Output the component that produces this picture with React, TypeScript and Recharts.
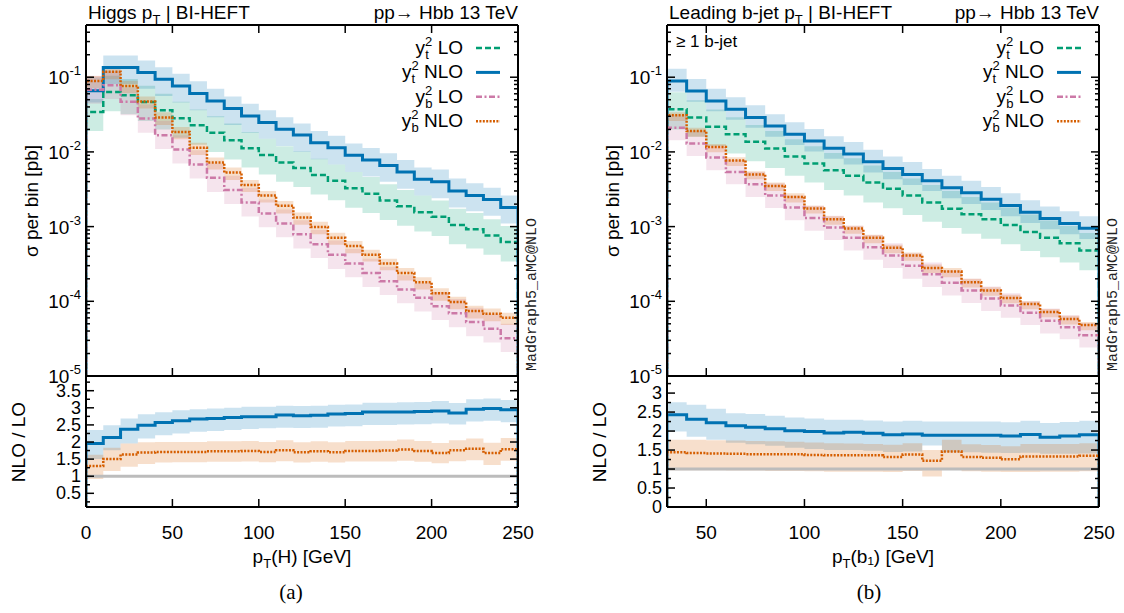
import React from "react";
import { ComposedChart, Line, Area, XAxis, YAxis, ReferenceLine } from "recharts";

// ---------- (a) Higgs pT, 10 GeV bins 0..250
const higgsEdges = [0, 10, 20, 30, 40, 50, 60, 70, 80, 90, 100, 110, 120, 130, 140, 150, 160, 170, 180, 190, 200, 210, 220, 230, 240, 250];

const higgsYtLO = [0.0343, 0.0636, 0.0574, 0.0467, 0.0362, 0.0282, 0.0227, 0.0181, 0.0143, 0.0112, 0.0091, 0.0072, 0.0061, 0.0049, 0.0041, 0.00325, 0.00276, 0.00224, 0.00188, 0.00156, 0.00136, 0.00105, 0.00092, 0.00076, 0.00062];
const higgsYtLOLo = [0.019, 0.035, 0.032, 0.026, 0.02, 0.0155, 0.0125, 0.01, 0.0079, 0.0062, 0.005, 0.004, 0.0034, 0.0027, 0.00226, 0.00179, 0.00152, 0.00123, 0.00103, 0.00086, 0.00075, 0.00058, 0.00051, 0.00042, 0.00034];
const higgsYtLOHi = [0.051, 0.105, 0.095, 0.077, 0.06, 0.047, 0.037, 0.03, 0.024, 0.0185, 0.015, 0.0119, 0.0101, 0.0081, 0.0068, 0.0054, 0.0046, 0.0037, 0.0031, 0.0026, 0.00224, 0.00173, 0.00152, 0.00125, 0.00102];

const higgsYtNLO = [0.066, 0.135, 0.135, 0.116, 0.094, 0.0765, 0.0604, 0.0481, 0.038, 0.0303, 0.0247, 0.0201, 0.0168, 0.0133, 0.0114, 0.009, 0.0078, 0.0066, 0.0054, 0.0043, 0.004, 0.003, 0.0026, 0.0023, 0.0018];
const higgsYtNLOLo = [0.046, 0.081, 0.081, 0.07, 0.056, 0.046, 0.036, 0.029, 0.023, 0.018, 0.015, 0.012, 0.01, 0.008, 0.0068, 0.0054, 0.0047, 0.004, 0.0032, 0.0026, 0.0024, 0.0018, 0.0016, 0.0014, 0.0011];
const higgsYtNLOHi = [0.1, 0.196, 0.196, 0.168, 0.136, 0.111, 0.088, 0.07, 0.055, 0.044, 0.036, 0.029, 0.024, 0.019, 0.0165, 0.013, 0.0113, 0.0096, 0.0078, 0.0062, 0.0058, 0.0044, 0.0038, 0.0033, 0.0026];

const higgsYbLO = [0.068, 0.078, 0.047, 0.0279, 0.0167, 0.0108, 0.0068, 0.0045, 0.0031, 0.0021, 0.0015, 0.0011, 0.00079, 0.00058, 0.00042, 0.00032, 0.00024, 0.000186, 0.000144, 0.000112, 0.000086, 0.000069, 0.000053, 0.000043, 0.000032];
const higgsYbLOLo = [0.044, 0.051, 0.031, 0.018, 0.0109, 0.007, 0.0044, 0.0029, 0.002, 0.00137, 0.00098, 0.00072, 0.00051, 0.00038, 0.00027, 0.00021, 0.000156, 0.000121, 0.000094, 0.000073, 0.000056, 0.000045, 0.000034, 0.000028, 0.000021];
const higgsYbLOHi = [0.105, 0.12, 0.073, 0.043, 0.026, 0.0167, 0.0105, 0.007, 0.0048, 0.0033, 0.0023, 0.0017, 0.00122, 0.0009, 0.00065, 0.0005, 0.00037, 0.00029, 0.000223, 0.000174, 0.000133, 0.000107, 0.000082, 0.000067, 0.00005];

const higgsYbNLO = [0.089, 0.118, 0.0765, 0.0472, 0.0288, 0.0185, 0.0114, 0.0072, 0.0053, 0.0036, 0.0026, 0.0019, 0.00132, 0.00099, 0.00071, 0.00055, 0.00042, 0.00032, 0.00024, 0.00018, 0.000128, 0.000098, 0.000074, 0.000068, 0.00006];
const higgsYbNLOLo = [0.071, 0.094, 0.061, 0.038, 0.023, 0.0148, 0.0091, 0.0058, 0.0042, 0.0029, 0.0021, 0.0015, 0.00106, 0.00079, 0.00057, 0.00044, 0.00034, 0.00026, 0.00019, 0.000144, 0.000102, 0.000078, 0.000059, 0.000054, 0.000048];
const higgsYbNLOHi = [0.104, 0.138, 0.09, 0.055, 0.034, 0.0216, 0.0133, 0.0084, 0.0062, 0.0042, 0.003, 0.0022, 0.00154, 0.00116, 0.00083, 0.00064, 0.00049, 0.00037, 0.00028, 0.00021, 0.00015, 0.000115, 0.000087, 0.00008, 0.00007];

// NLO / LO
const higgsRatioYt = [1.96, 2.13, 2.37, 2.49, 2.57, 2.62, 2.67, 2.69, 2.72, 2.74, 2.74, 2.79, 2.77, 2.78, 2.82, 2.83, 2.88, 2.875, 2.88, 2.89, 2.91, 2.85, 2.96, 2.98, 2.94];
const higgsRatioYtLo = [1.5, 1.76, 1.96, 2.1, 2.2, 2.25, 2.3, 2.32, 2.35, 2.38, 2.4, 2.42, 2.41, 2.42, 2.45, 2.46, 2.5, 2.5, 2.51, 2.52, 2.54, 2.51, 2.6, 2.62, 2.58];
const higgsRatioYtHi = [2.35, 2.49, 2.69, 2.81, 2.87, 2.93, 2.96, 2.98, 3.0, 3.03, 3.03, 3.06, 3.05, 3.06, 3.09, 3.1, 3.15, 3.15, 3.16, 3.17, 3.2, 3.14, 3.25, 3.27, 3.23];
const higgsRatioYb = [1.3, 1.5, 1.635, 1.69, 1.71, 1.71, 1.71, 1.73, 1.73, 1.74, 1.71, 1.76, 1.7, 1.73, 1.7, 1.74, 1.74, 1.75, 1.78, 1.74, 1.68, 1.76, 1.8, 1.68, 1.79];
const higgsRatioYbLo = [0.92, 1.15, 1.28, 1.36, 1.4, 1.41, 1.41, 1.42, 1.42, 1.43, 1.41, 1.44, 1.4, 1.42, 1.4, 1.43, 1.43, 1.43, 1.45, 1.42, 1.38, 1.44, 1.47, 1.33, 1.45];
const higgsRatioYbHi = [1.63, 1.83, 1.96, 1.99, 2.0, 2.0, 2.0, 2.02, 2.02, 2.03, 2.0, 2.05, 1.99, 2.02, 1.99, 2.03, 2.03, 2.04, 2.07, 2.03, 1.97, 2.05, 2.1, 1.98, 2.12];

// ---------- (b) leading b-jet pT, 10 GeV bins 30..250
const bjetEdges = [30, 40, 50, 60, 70, 80, 90, 100, 110, 120, 130, 140, 150, 160, 170, 180, 190, 200, 210, 220, 230, 240, 250];

const bjetYtLO = [0.0372, 0.0288, 0.0218, 0.0172, 0.0137, 0.0111, 0.0087, 0.007, 0.0057, 0.0048, 0.0039, 0.0032, 0.0026, 0.0021, 0.00174, 0.00146, 0.00125, 0.00105, 0.00085, 0.00071, 0.0006, 0.00048];
const bjetYtLOLo = [0.02, 0.016, 0.012, 0.0095, 0.0075, 0.0061, 0.0048, 0.0039, 0.0031, 0.0026, 0.0021, 0.00176, 0.00143, 0.00116, 0.00096, 0.0008, 0.00069, 0.00058, 0.00047, 0.00039, 0.00033, 0.00026];
const bjetYtLOHi = [0.063, 0.049, 0.037, 0.029, 0.023, 0.019, 0.0148, 0.0119, 0.0097, 0.0082, 0.0066, 0.0054, 0.0044, 0.0036, 0.003, 0.0025, 0.0021, 0.0018, 0.00145, 0.00121, 0.00102, 0.00082];

const bjetYtNLO = [0.0893, 0.0656, 0.0482, 0.0372, 0.0288, 0.0223, 0.0172, 0.014, 0.0112, 0.0094, 0.0074, 0.006, 0.005, 0.0041, 0.0033, 0.00284, 0.00232, 0.00192, 0.00156, 0.00128, 0.0011, 0.00095];
const bjetYtNLOLo = [0.064, 0.047, 0.035, 0.027, 0.021, 0.016, 0.0124, 0.0101, 0.0081, 0.0068, 0.0053, 0.0043, 0.0036, 0.003, 0.0024, 0.002, 0.00167, 0.00138, 0.00112, 0.00092, 0.00079, 0.00068];
const bjetYtNLOHi = [0.13, 0.095, 0.07, 0.054, 0.042, 0.032, 0.025, 0.0203, 0.0162, 0.0136, 0.0107, 0.0087, 0.0073, 0.0059, 0.0048, 0.0041, 0.0034, 0.0028, 0.00226, 0.00186, 0.0016, 0.00138];

const bjetYbLO = [0.0211, 0.013, 0.0084, 0.0054, 0.0037, 0.0026, 0.0018, 0.0013, 0.00097, 0.00071, 0.00053, 0.00041, 0.0003, 0.00023, 0.000177, 0.00014, 0.000109, 0.000088, 0.00007, 0.000055, 0.000045, 0.000035];
const bjetYbLOLo = [0.0143, 0.0088, 0.0057, 0.0037, 0.0025, 0.00177, 0.00122, 0.00088, 0.00066, 0.00048, 0.00036, 0.00028, 0.0002, 0.000156, 0.00012, 0.000095, 0.000074, 0.00006, 0.000048, 0.000037, 0.000031, 0.000024];
const bjetYbLOHi = [0.031, 0.019, 0.0122, 0.0078, 0.0054, 0.0038, 0.0026, 0.0019, 0.0014, 0.00103, 0.00077, 0.0006, 0.00044, 0.00033, 0.00026, 0.0002, 0.000158, 0.000128, 0.0001, 0.00008, 0.000065, 0.000051];

const bjetYbNLO = [0.031, 0.019, 0.0116, 0.0077, 0.005, 0.0035, 0.0025, 0.00175, 0.00125, 0.00094, 0.00071, 0.00052, 0.00041, 0.00028, 0.00025, 0.00018, 0.00014, 0.000111, 0.000092, 0.000072, 0.000058, 0.000048];
const bjetYbNLOLo = [0.026, 0.016, 0.0099, 0.0065, 0.0043, 0.003, 0.0021, 0.0015, 0.00106, 0.0008, 0.0006, 0.00044, 0.00035, 0.00024, 0.00021, 0.000153, 0.000119, 0.000094, 0.000078, 0.000061, 0.000049, 0.000041];
const bjetYbNLOHi = [0.034, 0.021, 0.0128, 0.0085, 0.0055, 0.0039, 0.0028, 0.0019, 0.00138, 0.00103, 0.00078, 0.00057, 0.00045, 0.00031, 0.00028, 0.0002, 0.000154, 0.000122, 0.0001, 0.000079, 0.000064, 0.000053];

const bjetRatioYt = [2.43, 2.31, 2.22, 2.14, 2.1, 2.06, 2.01, 1.99, 1.95, 1.97, 1.94, 1.9, 1.92, 1.89, 1.89, 1.89, 1.89, 1.87, 1.91, 1.84, 1.87, 1.9];
const bjetRatioYtLo = [1.99, 1.85, 1.77, 1.69, 1.65, 1.61, 1.56, 1.53, 1.5, 1.5, 1.48, 1.45, 1.46, 1.62, 1.44, 1.44, 1.43, 1.42, 1.43, 1.4, 1.4, 1.41];
const bjetRatioYtHi = [2.76, 2.69, 2.59, 2.47, 2.45, 2.4, 2.36, 2.33, 2.3, 2.3, 2.28, 2.25, 2.27, 2.25, 2.25, 2.25, 2.25, 2.23, 2.27, 2.21, 2.24, 2.27];
const bjetRatioYb = [1.44, 1.42, 1.41, 1.4, 1.39, 1.39, 1.39, 1.37, 1.36, 1.36, 1.36, 1.32, 1.38, 1.22, 1.46, 1.32, 1.3, 1.26, 1.33, 1.33, 1.33, 1.35];
const bjetRatioYbLo = [0.97, 0.97, 0.97, 0.96, 0.96, 0.95, 0.95, 0.94, 0.93, 0.93, 0.93, 0.92, 0.95, 0.8, 1.0, 0.94, 0.93, 0.92, 0.92, 0.93, 0.93, 0.94];
const bjetRatioYbHi = [1.77, 1.77, 1.76, 1.75, 1.74, 1.73, 1.72, 1.7, 1.68, 1.67, 1.66, 1.64, 1.68, 1.5, 1.77, 1.65, 1.63, 1.6, 1.66, 1.66, 1.66, 1.68];

// axis ticks
const logMajors = [1e-5, 1e-4, 1e-3, 1e-2, 1e-1];
const higgsXTicks = [0, 50, 100, 150, 200, 250];
const bjetXTicks = [50, 100, 150, 200, 250];
const higgsRatioMajors = [0.5, 1, 1.5, 2, 2.5, 3, 3.5];
const bjetRatioMajors = [0, 0.5, 1, 1.5, 2, 2.5, 3];

// the step histograms rise from / drop to this level at the outer edges
const LOG_FLOOR = 1e-9;
const RATIO_FLOOR = 0;

// colours
const GREEN = "#009e73";
const BLUE = "#0072b2";
const PINK = "#cc79a7";
const ORANGE = "#d55e00";
const FONT = "'Liberation Sans', Arial, Helvetica, sans-serif";
const FS = 19;

// layout (page pixels)
const PLOT_W = 432;
const TOP_Y = 25;
const MID_Y = 376;
const BOT_Y = 507;
const LEFT_X0 = 86;
const RIGHT_X0 = 667;

function logTickList(top: number) {
  const out: number[] = [];
  for (const m of logMajors) {
    for (let k = 1; k <= 9; k++) {
      const v = m * k;
      if (v <= top * 1.0001) out.push(v);
    }
  }
  return out;
}

function quarterTicks(lo: number, hi: number) {
  const out: number[] = [];
  for (let v = 0; v <= hi + 1e-9; v += 0.25) if (v >= lo - 1e-9) out.push(Math.round(v * 100) / 100);
  return out;
}

const isIn = (list: number[], v: number) => list.some((m) => Math.abs(m - v) <= 1e-6 * Math.abs(m) + 1e-12);

// step rows: one row per bin edge, the last edge repeats the last bin;
// an extra row at each outer edge drops the line to the floor (gnuplot-style histogram)
function stepRows(edges: number[], series: Record<string, number[][]>, floor: number) {
  const n = edges.length - 1;
  const rows: any[] = [];
  const make = (x: number, k: number, atFloor: boolean) => {
    const row: any = { x };
    Object.keys(series).forEach((key) => {
      const [c, lo, hi] = series[key];
      row[key] = atFloor ? floor : c[k];
      row[key + "Band"] = [lo[k], hi[k]];
    });
    return row;
  };
  rows.push(make(edges[0], 0, true));
  edges.forEach((x, i) => rows.push(make(x, Math.min(i, n - 1), false)));
  rows.push(make(edges[n], n - 1, true));
  return rows;
}

const YTick = (props: any) => {
  const { x, y, payload, side, majors, log } = props;
  const v = payload.value;
  const major = isIn(majors, v);
  const dir = side === "l" ? 1 : -1;
  const len = major ? 8 : 4;
  let label = null;
  if (side === "l" && major) {
    if (log) {
      const e = Math.round(Math.log10(v));
      label = (
        <text x={x - 5} y={y + 7} textAnchor="end" fontFamily={FONT} fontSize={FS} fill="#000">
          10<tspan dy={-9} fontSize={13}>{e}</tspan>
        </text>
      );
    } else {
      label = (
        <text x={x - 5} y={y + 6} textAnchor="end" fontFamily={FONT} fontSize={18} fill="#000">
          {String(v)}
        </text>
      );
    }
  }
  return (
    <g>
      <line x1={x} x2={x + dir * len} y1={y} y2={y} stroke="#000" strokeWidth={1.5} />
      {label}
    </g>
  );
};

const XTick = (props: any) => {
  const { x, y, payload, side, showLabel } = props;
  const dir = side === "b" ? -1 : 1;
  return (
    <g>
      <line x1={x} x2={x} y1={y} y2={y + dir * 8} stroke="#000" strokeWidth={1.5} />
      {showLabel && (
        <text x={x} y={y + 32} textAnchor="middle" fontFamily={FONT} fontSize={FS} fill="#000">
          {payload.value}
        </text>
      )}
    </g>
  );
};

const frameLine = { stroke: "#000", strokeWidth: 2 };

function bandArea(key: string, color: string) {
  return (
    <Area
      key={key + "Band"}
      xAxisId="b"
      yAxisId="l"
      dataKey={key + "Band"}
      type="stepAfter"
      stroke="none"
      fill={color}
      fillOpacity={0.2}
      isAnimationActive={false}
      dot={false}
      activeDot={false}
    />
  );
}

function stepLine(key: string, color: string, dash?: string, width = 2.5) {
  return (
    <Line
      key={key}
      xAxisId="b"
      yAxisId="l"
      dataKey={key}
      type="stepAfter"
      stroke={color}
      strokeWidth={width}
      strokeDasharray={dash}
      dot={false}
      activeDot={false}
      isAnimationActive={false}
    />
  );
}

// chart box around each plot area; axes take 1px each (0 would hide them)
const ML = 90;
const MR = 30;
const MT = 10;
const MB = 50;
const AX = 1;
const chartMargin = { top: MT - AX, right: MR - AX, bottom: MB - AX, left: ML - AX };

function XsecPlot({ x0, rows, xDomain, xTicks }: any) {
  const h = MID_Y - TOP_Y;
  const yTicks = logTickList(0.5);
  return (
    <div style={{ position: "absolute", left: x0 - ML, top: TOP_Y - MT }}>
      <ComposedChart width={PLOT_W + ML + MR} height={h + MT + MB} data={rows} margin={chartMargin}>
        {bandArea("ytLO", GREEN)}
        {bandArea("ytNLO", BLUE)}
        {bandArea("ybLO", PINK)}
        {bandArea("ybNLO", ORANGE)}
        {stepLine("ytLO", GREEN, "6 3")}
        {stepLine("ytNLO", BLUE, undefined, 3)}
        {stepLine("ybLO", PINK, "6 2.5 2 2.5")}
        {stepLine("ybNLO", ORANGE, "2 1.4")}
        <XAxis xAxisId="b" dataKey="x" type="number" domain={xDomain} ticks={xTicks} interval={0} orientation="bottom" height={AX} tickSize={0} tickMargin={0} axisLine={frameLine} tickLine={false} allowDataOverflow tick={(p: any) => <XTick {...p} side="b" showLabel={false} />} />
        <XAxis xAxisId="t" dataKey="x" type="number" domain={xDomain} ticks={xTicks} interval={0} orientation="top" height={AX} tickSize={0} tickMargin={0} axisLine={frameLine} tickLine={false} allowDataOverflow tick={(p: any) => <XTick {...p} side="t" showLabel={false} />} />
        <YAxis yAxisId="l" scale="log" type="number" domain={[1e-5, 0.5]} ticks={yTicks} interval={0} width={AX} tickSize={0} tickMargin={0} axisLine={frameLine} tickLine={false} allowDataOverflow tick={(p: any) => <YTick {...p} side="l" majors={logMajors} log />} />
        <YAxis yAxisId="r" orientation="right" scale="log" type="number" domain={[1e-5, 0.5]} ticks={yTicks} interval={0} width={AX} tickSize={0} tickMargin={0} axisLine={frameLine} tickLine={false} allowDataOverflow tick={(p: any) => <YTick {...p} side="r" majors={logMajors} log />} />
      </ComposedChart>
    </div>
  );
}

function RatioPlot({ x0, rows, xDomain, xTicks, yDomain, yMajors }: any) {
  const h = BOT_Y - MID_Y;
  const yTicks = quarterTicks(yDomain[0], yDomain[1]);
  return (
    <div style={{ position: "absolute", left: x0 - ML, top: MID_Y - MT }}>
      <ComposedChart width={PLOT_W + ML + MR} height={h + MT + MB} data={rows} margin={chartMargin}>
        {bandArea("yt", BLUE)}
        {bandArea("yb", ORANGE)}
        <ReferenceLine xAxisId="b" yAxisId="l" y={1} stroke="#bcbcbc" strokeWidth={3} />
        {stepLine("yt", BLUE, undefined, 3)}
        {stepLine("yb", ORANGE, "2 1.4")}
        <XAxis xAxisId="b" dataKey="x" type="number" domain={xDomain} ticks={xTicks} interval={0} orientation="bottom" height={AX} tickSize={0} tickMargin={0} axisLine={frameLine} tickLine={false} allowDataOverflow tick={(p: any) => <XTick {...p} side="b" showLabel />} />
        <XAxis xAxisId="t" dataKey="x" type="number" domain={xDomain} ticks={xTicks} interval={0} orientation="top" height={AX} tickSize={0} tickMargin={0} axisLine={frameLine} tickLine={false} allowDataOverflow tick={false} />
        <YAxis yAxisId="l" type="number" domain={yDomain} ticks={yTicks} interval={0} width={AX} tickSize={0} tickMargin={0} axisLine={frameLine} tickLine={false} allowDataOverflow tick={(p: any) => <YTick {...p} side="l" majors={yMajors} />} />
        <YAxis yAxisId="r" orientation="right" type="number" domain={yDomain} ticks={yTicks} interval={0} width={AX} tickSize={0} tickMargin={0} axisLine={frameLine} tickLine={false} allowDataOverflow tick={(p: any) => <YTick {...p} side="r" majors={yMajors} />} />
      </ComposedChart>
    </div>
  );
}

const legendRows = [
  { sub: "t", tail: " LO", color: GREEN, dash: "6 3", w: 2.5 },
  { sub: "t", tail: " NLO", color: BLUE, dash: undefined, w: 3 },
  { sub: "b", tail: " LO", color: PINK, dash: "6 2.5 2 2.5", w: 2.5 },
  { sub: "b", tail: " NLO", color: ORANGE, dash: "2 1.4", w: 2.5 },
];

function Legend({ x1 }: any) {
  return (
    <g>
      {legendRows.map((r, i) => {
        const yb = 54 + i * 24.4;
        return (
          <g key={i}>
            <text x={x1 - 55} y={yb} textAnchor="end" fontFamily={FONT} fontSize={FS} fill="#000">
              y<tspan dy={-8} fontSize={13}>2</tspan>
              <tspan dx={-7.2} dy={13} fontSize={13}>{r.sub}</tspan>
              <tspan dx={r.sub === "t" ? 3.6 : 0} dy={-5}>{r.tail}</tspan>
            </text>
            <line x1={x1 - 42} x2={x1 - 18} y1={yb - 6} y2={yb - 6} stroke={r.color} strokeWidth={r.w} strokeDasharray={r.dash} />
          </g>
        );
      })}
    </g>
  );
}

function PanelText({ x0, title, xVar, caption, captionX, extra }: any) {
  const x1 = x0 + PLOT_W;
  const cx = (x0 + x1) / 2;
  return (
    <g fontFamily={FONT} fill="#000">
      <text x={x0 + 2} y={19} fontSize={FS}>
        {title}<tspan dy={5} fontSize={13}>T</tspan>
        <tspan dy={-5}> | BI-HEFT</tspan>
      </text>
      <text x={x1} y={19} fontSize={FS} textAnchor="end">pp→ Hbb 13 TeV</text>
      <text transform={`translate(${x0 - 48},201) rotate(-90)`} textAnchor="middle" fontSize={FS}>σ per bin [pb]</text>
      <text transform={`translate(${x0 - 61},442) rotate(-90)`} textAnchor="middle" fontSize={FS}>NLO / LO</text>
      <text x={cx} y={563} textAnchor="middle" fontSize={FS}>
        p<tspan dy={5} fontSize={13}>T</tspan>
        <tspan dy={-5}>{xVar}</tspan>
      </text>
      <text x={captionX} y={599} textAnchor="middle" fontSize={21} fontFamily="'Liberation Serif', 'DejaVu Serif', serif">{caption}</text>
      <text transform={`translate(${x1 + 18},371) rotate(-90)`} fontSize={15} fontFamily="'Liberation Mono', 'DejaVu Sans Mono', monospace" fill="#222">MadGraph5_aMC@NLO</text>
      {extra}
      <Legend x1={x1} />
    </g>
  );
}

export default function App() {
  const higgsTop = stepRows(higgsEdges, {
    ytLO: [higgsYtLO, higgsYtLOLo, higgsYtLOHi],
    ytNLO: [higgsYtNLO, higgsYtNLOLo, higgsYtNLOHi],
    ybLO: [higgsYbLO, higgsYbLOLo, higgsYbLOHi],
    ybNLO: [higgsYbNLO, higgsYbNLOLo, higgsYbNLOHi],
  }, LOG_FLOOR);
  const higgsRatio = stepRows(higgsEdges, {
    yt: [higgsRatioYt, higgsRatioYtLo, higgsRatioYtHi],
    yb: [higgsRatioYb, higgsRatioYbLo, higgsRatioYbHi],
  }, RATIO_FLOOR);
  const bjetTop = stepRows(bjetEdges, {
    ytLO: [bjetYtLO, bjetYtLOLo, bjetYtLOHi],
    ytNLO: [bjetYtNLO, bjetYtNLOLo, bjetYtNLOHi],
    ybLO: [bjetYbLO, bjetYbLOLo, bjetYbLOHi],
    ybNLO: [bjetYbNLO, bjetYbNLOLo, bjetYbNLOHi],
  }, LOG_FLOOR);
  const bjetRatio = stepRows(bjetEdges, {
    yt: [bjetRatioYt, bjetRatioYtLo, bjetRatioYtHi],
    yb: [bjetRatioYb, bjetRatioYbLo, bjetRatioYbHi],
  }, RATIO_FLOOR);

  return (
    <div style={{ position: "absolute", left: 0, top: 0, width: 1124, height: 613, background: "#fff", overflow: "hidden" }}>
      <XsecPlot x0={LEFT_X0} rows={higgsTop} xDomain={[0, 250]} xTicks={higgsXTicks} />
      <RatioPlot x0={LEFT_X0} rows={higgsRatio} xDomain={[0, 250]} xTicks={higgsXTicks} yDomain={[0.1, 3.93]} yMajors={higgsRatioMajors} />
      <XsecPlot x0={RIGHT_X0} rows={bjetTop} xDomain={[30, 250]} xTicks={bjetXTicks} />
      <RatioPlot x0={RIGHT_X0} rows={bjetRatio} xDomain={[30, 250]} xTicks={bjetXTicks} yDomain={[0, 3.45]} yMajors={bjetRatioMajors} />
      <svg width={1124} height={613} style={{ position: "absolute", left: 0, top: 0, pointerEvents: "none" }}>
        <PanelText x0={LEFT_X0} title="Higgs p" xVar="(H) [GeV]" caption="(a)" captionX={291} />
        <PanelText
          x0={RIGHT_X0}
          title="Leading b-jet p"
          xVar={"(b\u2081) [GeV]"}
          caption="(b)"
          captionX={869}
          extra={<text x={676} y={47} fontSize={17}>≥ 1 b-jet</text>}
        />
      </svg>
    </div>
  );
}
